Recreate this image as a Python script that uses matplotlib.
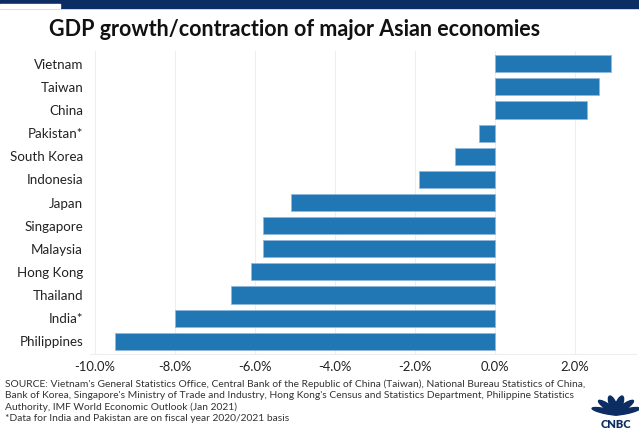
import numpy as np
import matplotlib.pyplot as plt
from matplotlib.patches import Rectangle, Ellipse

countries = ['Vietnam', 'Taiwan', 'China', 'Pakistan*', 'South Korea', 'Indonesia',
             'Japan', 'Singapore', 'Malaysia', 'Hong Kong', 'Thailand', 'India*', 'Philippines']
growth = [2.9, 2.6, 2.3, -0.4, -1.0, -1.9, -5.1, -5.8, -5.8, -6.1, -6.6, -8.0, -9.5]
xticks = [-10, -8, -6, -4, -2, 0, 2]
xtick_labels = ['-10.0%', '-8.0%', '-6.0%', '-4.0%', '-2.0%', '0.0%', '2.0%']

plt.rcParams['font.family'] = ['Lato', 'DejaVu Sans']

fig = plt.figure(figsize=(6.39, 4.32), dpi=100)
W, H = 639, 432

# header band
fig.patches.append(Rectangle((0, 1 - 8 / H), 1, 8 / H, transform=fig.transFigure,
                             color='#0b2d63', zorder=0))
fig.patches.append(Rectangle((0, 1 - 8 / H), 60 / W, 4 / H, transform=fig.transFigure,
                             color='white', zorder=1))
fig.text(49 / W, 1 - 30 / H, 'GDP growth/contraction of major Asian economies',
         fontsize=15.5, fontweight='bold', color='#111111', va='center', ha='left')

ax = fig.add_axes([90 / W, 1 - 354 / H, 546 / W, 303 / H])
y = np.arange(len(countries))
ax.barh(y, growth, height=0.74, color='#2077b4', edgecolor='#8fb8dc', linewidth=0.6, zorder=3)
ax.set_ylim(len(countries) - 0.45, -0.55)
ax.set_xlim(-10.12, 3.53)
ax.set_yticks(y)
ax.set_yticklabels(countries, fontsize=9.6, color='#222222')
ax.set_xticks(xticks)
ax.set_xticklabels(xtick_labels, fontsize=9.4, color='#222222')
ax.tick_params(length=0, pad=5)
ax.grid(axis='x', color='#eeeeee', linewidth=0.8, zorder=0)
for s in ['top', 'right', 'left']:
    ax.spines[s].set_visible(False)
ax.spines['bottom'].set_color('#eeeeee')

source = ("SOURCE: Vietnam's General Statistics Office, Central Bank of the Republic of China (Taiwan), "
          "National Bureau Statistics of China,\n"
          "Bank of Korea, Singapore's Ministry of Trade and Industry, Hong Kong's Census and Statistics "
          "Department, Philippine Statistics\n"
          "Authority, IMF World Economic Outlook (Jan 2021)\n"
          "*Data for India and Pakistan are on fiscal year 2020/2021 basis")
fig.text(5 / W, 1 - 379 / H, source, fontsize=7.4, color='#333333', va='top', ha='left',
         linespacing=1.32)

# simple CNBC mark
cx, cy = 616 / W, 1 - 414 / H
for ang in np.linspace(18, 162, 6):
    a = np.deg2rad(ang)
    fig.patches.append(Ellipse((cx + 11 * np.cos(a) / W, cy + 9 * np.sin(a) / H),
                               7 / W, 19 / H, angle=ang - 90, transform=fig.transFigure,
                               color='#0b2d63'))
fig.text(cx, 1 - 424 / H, 'CNBC', fontsize=8, fontweight='heavy', color='#0b2d63',
         ha='center', va='center')

fig.savefig('out.png', dpi=100)
